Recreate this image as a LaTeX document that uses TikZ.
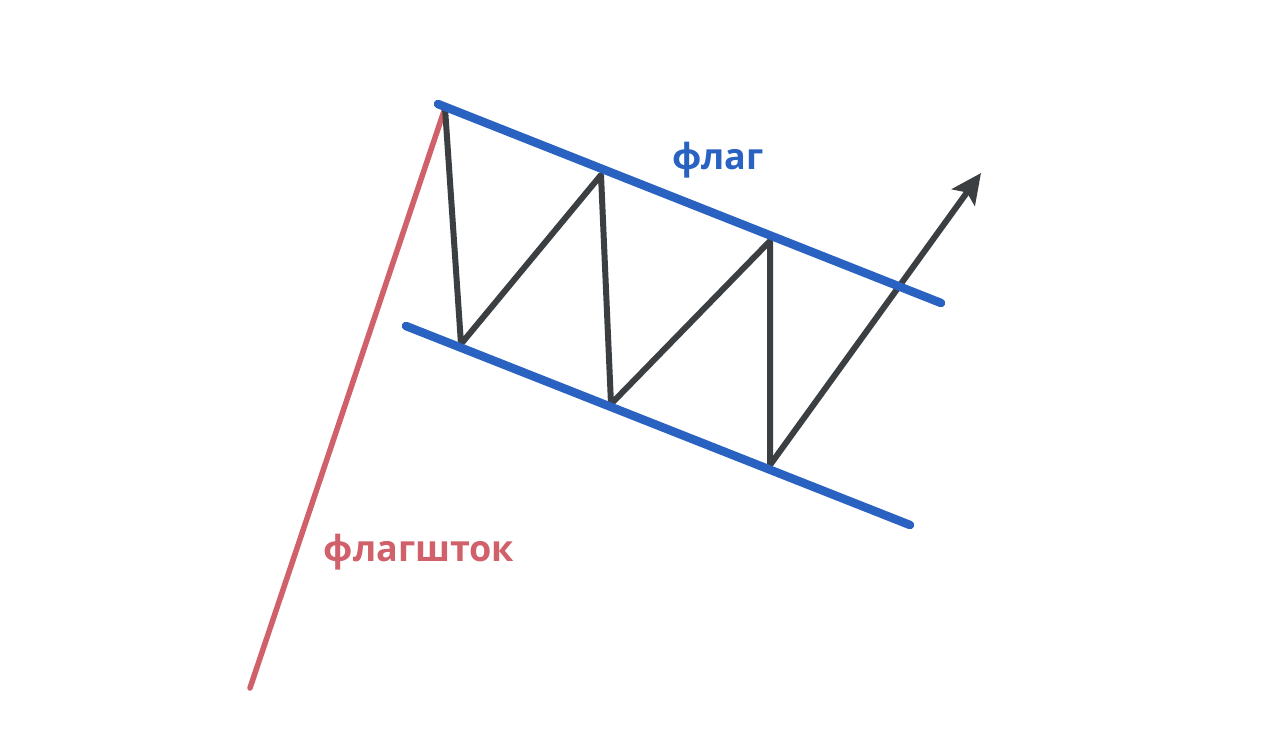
\documentclass[tikz,border=0pt]{standalone}
\usepackage{fontspec}
\setmainfont{Open Sans}
\usetikzlibrary{arrows.meta}
\definecolor{flagblue}{HTML}{2A62C2}
\definecolor{poleRed}{HTML}{D0606A}
\definecolor{zigGray}{HTML}{3C3F42}
\tikzset{
  bandline/.style={draw=flagblue, line width=8.5pt, line cap=round},
  poleline/.style={draw=poleRed, line width=5.5pt, line cap=round},
  zigline/.style={draw=zigGray, line width=6pt, line cap=round, line join=round},
  lbl/.style={font=\bfseries\fontsize{36}{38}\selectfont, inner sep=0pt}
}
\begin{document}
\begin{tikzpicture}[x=1pt,y=-1pt]
\useasboundingbox (0,0) rectangle (1280,745);
\fill[white] (0,0) rectangle (1280,745);
\coordinate (pb) at (250,688);
\coordinate (p0) at (445,108);
\coordinate (p1) at (461,344);
\coordinate (p2) at (601,175);
\coordinate (p3) at (611,404);
\coordinate (p4) at (770,241);
\coordinate (p5) at (770,465);
\coordinate (tip) at (981,173);
\coordinate (ta) at (438,104);
\coordinate (tb) at (941,303);
\coordinate (ba) at (406,326);
\coordinate (bb) at (910,525);
\draw[poleline] (pb) -- (p0);
\draw[zigline] (p0) -- (p1) -- (p2) -- (p3) -- (p4) -- (p5);
\draw[zigline, -{Stealth[length=30pt,width=28pt,inset=6pt]}] (p5) -- (tip);
\draw[bandline] (ta) -- (tb);
\draw[bandline] (ba) -- (bb);
\node[lbl, text=flagblue] (flag) at (718,160) {флаг};
\node[lbl, text=poleRed] (pole) at (419,552) {флагшток};
\end{tikzpicture}
\end{document}
